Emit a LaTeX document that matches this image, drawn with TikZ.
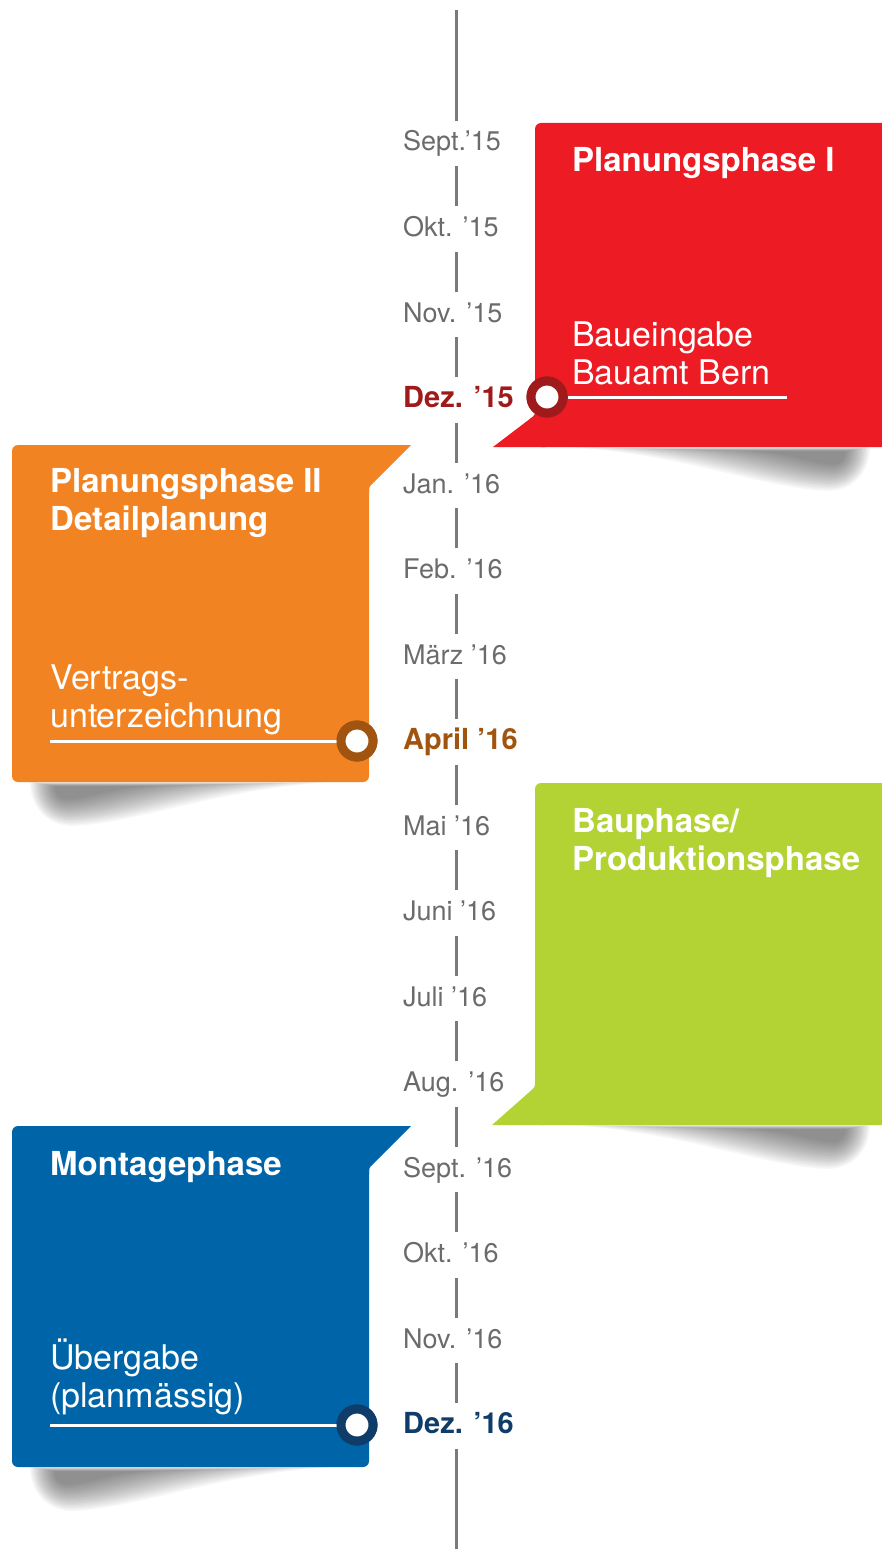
\documentclass[tikz,border=0pt]{standalone}
\usepackage{fontspec}
\setmainfont{TeX Gyre Heros}
\definecolor{redbox}{HTML}{ED1C24}
\definecolor{redring}{HTML}{9E1A1B}
\definecolor{orangebox}{HTML}{F28322}
\definecolor{orangering}{HTML}{A0540F}
\definecolor{greenbox}{HTML}{B3D334}
\definecolor{bluebox}{HTML}{0065A8}
\definecolor{bluering}{HTML}{0F3C68}
\definecolor{monthgray}{HTML}{6B6B6B}
\definecolor{linegray}{HTML}{7A7A7A}
\newcommand\papershadow[3]{%
  \foreach \i in {0,...,19}{%
    \pgfmathsetmacro\s{1-0.037*\i}%
    \pgfmathsetmacro\xs{#3*\s}%
    \fill[shadowfill, shift={(#1,#2+6)}, xscale=\xs, yscale=\s]
      (-270,-6) .. controls (-155,0) and (-75,35) .. (-8,38)
      .. controls (20,38) and (35,17) .. (35,-6) -- cycle;
  }}
\begin{document}
\begin{tikzpicture}[x=1pt,y=-1pt,
  month/.style={anchor=base west, inner xsep=0pt, inner ysep=15pt, text height=15pt, text depth=0pt,
    font=\fontsize{27}{30}\selectfont, text=monthgray},
  keymonth/.style={month, font=\fontsize{29}{30}\selectfont\bfseries, text=#1},
  title/.style={anchor=base west, inner sep=0pt, align=left, text=white, font=\fontsize{33}{38}\selectfont\bfseries},
  body/.style={anchor=base west, inner sep=0pt, align=left, text=white, font=\fontsize{34}{38}\selectfont},
  ring/.style={circle, draw=#1, line width=9pt, fill=white, minimum size=32pt, inner sep=0pt},
  uline/.style={white, line width=3pt},
  vline/.style={linegray, line width=3pt},
  shadowfill/.style={fill=black!85, fill opacity=0.035},
]
\useasboundingbox (0,0) rectangle (882,1549);
\begin{scope}
\clip (0,0) rectangle (882,1549);
% shadows
\papershadow{835}{447}{1}
\papershadow{835}{1125}{1}
\papershadow{65}{782}{-1}
\papershadow{65}{1467}{-1}
% red box
\fill[redbox, rounded corners=6pt] (535,123) rectangle (900,447);
\fill[redbox] (493,447) -- (530,418.8) .. controls (535,415) .. (535,409) -- (545,409) -- (545,447) -- cycle;
% orange box
\fill[orangebox, rounded corners=6pt] (12,445) rectangle (369,782);
\fill[orangebox] (411,445) -- (373,483) .. controls (369,487) .. (369,493) -- (355,493) -- (355,445) -- cycle;
% green box
\fill[greenbox, rounded corners=6pt] (535,783) rectangle (900,1125);
\fill[greenbox] (492,1125) -- (530.5,1091) .. controls (535,1087) .. (535,1081) -- (545,1081) -- (545,1125) -- cycle;
% blue box
\fill[bluebox, rounded corners=6pt] (12,1126) rectangle (369,1467);
\fill[bluebox] (411,1126) -- (373,1164) .. controls (369,1168) .. (369,1174) -- (355,1174) -- (355,1126) -- cycle;
\end{scope}
% timeline labels
\coordinate (top) at (456,10);
\coordinate (bot) at (456,1549);
\node[month] (m1) at (403,151) {Sept.’15};
\node[month] (m2) at (403,236.5) {Okt. ’15};
\node[month] (m3) at (403,322) {Nov. ’15};
\node[keymonth=redring] (m4) at (403,407.5) {Dez. ’15};
\node[month] (m5) at (403,493) {Jan. ’16};
\node[month] (m6) at (403,578.5) {Feb. ’16};
\node[month] (m7) at (403,664) {März ’16};
\node[keymonth=orangering] (m8) at (403,749.5) {April ’16};
\node[month] (m9) at (403,835) {Mai ’16};
\node[month] (m10) at (403,920.5) {Juni ’16};
\node[month] (m11) at (403,1006) {Juli ’16};
\node[month] (m12) at (403,1091.5) {Aug. ’16};
\node[month] (m13) at (403,1177) {Sept. ’16};
\node[month] (m14) at (403,1262.5) {Okt. ’16};
\node[month] (m15) at (403,1348) {Nov. ’16};
\node[keymonth=bluering] (m16) at (403,1433.5) {Dez. ’16};
\draw[vline] (top) -- (top |- m1.north);
\foreach \a/\b in {m1/m2,m2/m3,m3/m4,m4/m5,m5/m6,m6/m7,m7/m8,m8/m9,m9/m10,m10/m11,m11/m12,m12/m13,m13/m14,m14/m15,m15/m16}
  \draw[vline] (top |- \a.south) -- (top |- \b.north);
\draw[vline] (top |- m16.south) -- (bot);
% box texts (base anchor = last line)
\node[title] (t1) at (572,172) {Planungsphase I};
\node[body] (b1) at (572,384) {Baueingabe\\Bauamt Bern};
\node[title] (t2) at (50,530) {Planungsphase II\\Detailplanung};
\node[body] (b2) at (50,727) {Vertrags-\\unterzeichnung};
\node[title] (t3) at (572,870) {Bauphase/\\Produktionsphase};
\node[title] (t4) at (50,1175) {Montagephase};
\node[body] (b4) at (50,1407) {Übergabe\\(planmässig)};
% milestones
\coordinate (u1) at (787,397);
\coordinate (u2) at (50,741);
\coordinate (u4) at (50,1425);
\node[ring=redring] (r1) at (547,397) {};
\node[ring=orangering] (r2) at (357,741) {};
\node[ring=bluering] (r4) at (357,1425) {};
\draw[uline] (r1) -- (u1);
\draw[uline] (u2) -- (r2);
\draw[uline] (u4) -- (r4);
\node[ring=redring] at (r1) {};
\node[ring=orangering] at (r2) {};
\node[ring=bluering] at (r4) {};
\end{tikzpicture}
\end{document}
